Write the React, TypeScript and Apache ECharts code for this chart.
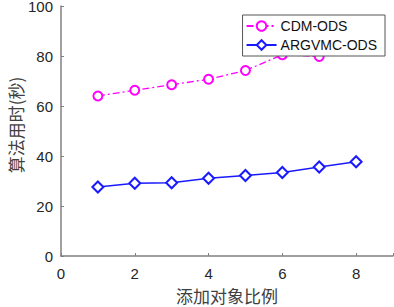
import React, { useEffect, useRef } from "react";
import * as echarts from "echarts";

const xValues = [1, 2, 3, 4, 5, 6, 7, 8];
const cdmOds = [64, 66.3, 68.5, 70.7, 74.2, 80.5, 79.8, 86];
const argvmcOds = [27.6, 29.1, 29.3, 31.1, 32.2, 33.4, 35.6, 37.7];
const seriesNames = ["CDM-ODS", "ARGVMC-ODS"];
const xAxisName = "添加对象比例";
const yAxisName = "算法用时(秒)";

export default function App() {
  const ref = useRef<HTMLDivElement>(null);
  useEffect(() => {
    if (!ref.current) return;
    const chart = echarts.init(ref.current, undefined, { renderer: "svg" });
    const tickFont = { fontFamily: "Liberation Sans, Arial, sans-serif", fontSize: 15, color: "#262626" };
    chart.setOption({
      animation: false,
      backgroundColor: "#ffffff",
      grid: { left: 61, right: 1, top: 6, bottom: 51, containLabel: false, outerBoundsMode: "none" },
      legend: {
        orient: "vertical",
        right: 9,
        top: 15,
        padding: [4, 8, 4, 3],
        itemGap: 5,
        itemWidth: 30,
        itemHeight: 12,
        backgroundColor: "#ffffff",
        borderColor: "#555555",
        borderWidth: 1,
        textStyle: { fontFamily: "Liberation Sans, Arial, sans-serif", fontSize: 14, color: "#111111", padding: [0, 0, 0, -1] },
        data: seriesNames,
      },
      xAxis: {
        type: "value",
        min: 0,
        max: 9,
        interval: 2,
        name: xAxisName,
        nameLocation: "middle",
        nameGap: 31,
        nameMoveOverlap: false,
        nameTextStyle: { fontFamily: "Noto Sans CJK SC", fontSize: 17, color: "#404040" },
        axisLine: { show: true, lineStyle: { color: "#808080", width: 1.5 } },
        axisTick: { show: true, inside: true, length: 3, lineStyle: { color: "#808080" } },
        axisLabel: { ...tickFont, margin: 10, formatter: (v: number) => (v % 2 === 0 && v < 9 ? String(v) : "") },
        splitLine: { show: false },
      },
      yAxis: {
        type: "value",
        min: 0,
        max: 100,
        interval: 20,
        name: yAxisName,
        nameLocation: "middle",
        nameGap: 37,
        nameMoveOverlap: false,
        nameTextStyle: { fontFamily: "Noto Sans CJK SC", fontSize: 17, color: "#404040", padding: [0, 0, 0, 12] },
        axisLine: { show: true, lineStyle: { color: "#808080", width: 1.5 } },
        axisTick: { show: true, inside: true, length: 3, lineStyle: { color: "#808080" } },
        axisLabel: { ...tickFont, margin: 8, padding: [3, 0, 0, 0] },
        splitLine: { show: false },
      },
      series: [
        {
          name: seriesNames[0],
          type: "line",
          data: xValues.map((x, i) => [x, cdmOds[i]]),
          symbol: "emptyCircle",
          symbolSize: 9,
          color: "#ff00ff",
          lineStyle: { color: "#ff00ff", width: 1.3, type: [7, 3, 2, 3] },
          itemStyle: { color: "#ff00ff", borderColor: "#ff00ff", borderWidth: 1.5 },
          z: 2,
        },
        {
          name: seriesNames[1],
          type: "line",
          data: xValues.map((x, i) => [x, argvmcOds[i]]),
          symbol: "emptyDiamond",
          symbolSize: 11,
          color: "#1a1aff",
          lineStyle: { color: "#1a1aff", width: 1.5 },
          itemStyle: { color: "#1a1aff", borderColor: "#1a1aff", borderWidth: 1.5 },
          z: 2,
        },
      ],
    });
    return () => chart.dispose();
  }, []);
  return (
    <div
      ref={ref}
      style={{ position: "fixed", left: 0, top: 0, width: 394, height: 307, background: "#fff" }}
    />
  );
}
